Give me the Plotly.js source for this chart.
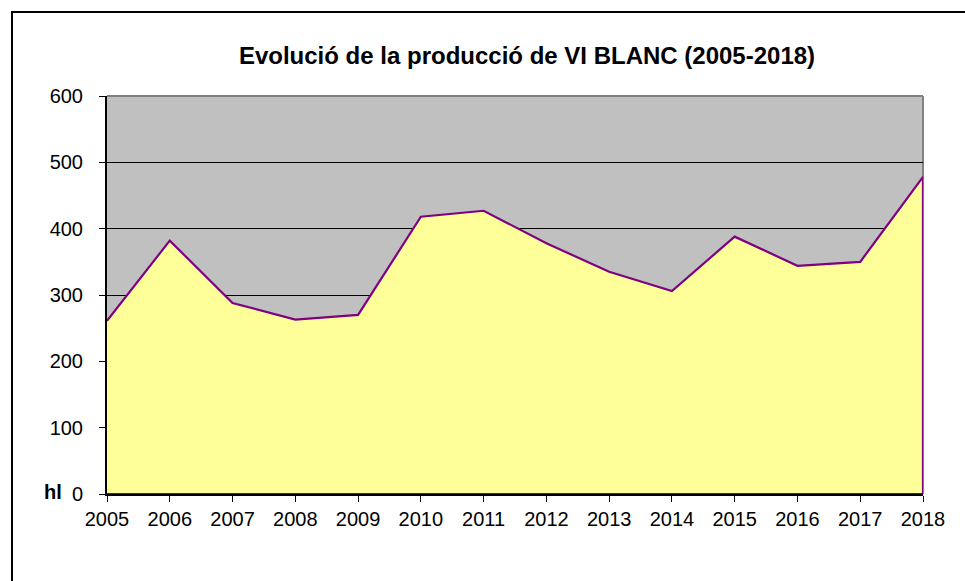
<!DOCTYPE html>
<html>
<head>
<meta charset="utf-8">
<script src="https://cdn.plot.ly/plotly-3.0.1.min.js"></script>
<style>
html,body{margin:0;padding:0;background:#fff;}
#wrap{position:relative;width:965px;height:581px;overflow:hidden;}
#frame{position:absolute;left:11px;top:11px;width:1000px;height:700px;border-left:2px solid #000;border-top:2px solid #000;pointer-events:none;}
#chart{position:absolute;left:0;top:0;width:965px;height:581px;}
</style>
</head>
<body>
<div id="wrap">
<div id="chart"></div>
<div id="frame"></div>
</div>
<script>
const years = [2005,2006,2007,2008,2009,2010,2011,2012,2013,2014,2015,2016,2017,2018];
const production = [261,382,288,263,270,418,427,378,335,306,388,344,350,478];
const yTicks = [0,100,200,300,400,500,600];
const titleText = 'Evolució de la producció de VI BLANC (2005-2018)';
const unitLabel = 'hl';

const xs = years.concat([years[years.length-1], years[0]]);
const ys = production.concat([0, 0]);

const font = 'Liberation Sans, Arial, sans-serif';

const trace = {
  x: xs, y: ys, type: 'scatter', mode: 'lines',
  fill: 'toself', fillcolor: '#FFFF99',
  line: {color: '#800080', width: 2.2},
  hoverinfo: 'skip'
};

const layout = {
  width: 965, height: 581,
  margin: {l: 107, r: 42, t: 96, b: 87},
  paper_bgcolor: 'rgba(0,0,0,0)',
  plot_bgcolor: '#C0C0C0',
  showlegend: false,
  title: {
    text: '<b>' + titleText + '</b>',
    font: {family: font, size: 24, color: '#000'},
    xref: 'container', yref: 'container',
    x: 527/965, xanchor: 'center',
    y: 1 - 56/581, yanchor: 'middle'
  },
  xaxis: {
    range: [years[0], years[years.length-1]],
    tickmode: 'array', tickvals: years, ticktext: years.map(String),
    showgrid: false, zeroline: false,
    showline: true, linecolor: '#000', linewidth: 2,
    ticks: 'outside', ticklen: 6, tickcolor: '#000', tickwidth: 1,
    tickfont: {family: font, size: 20, color: '#000'},
    fixedrange: true
  },
  yaxis: {
    range: [0, 600],
    tickmode: 'array', tickvals: yTicks, ticktext: yTicks.map(String),
    showgrid: true, gridcolor: '#000', gridwidth: 1,
    zeroline: false,
    showline: true, linecolor: '#000', linewidth: 2,
    ticks: 'outside', ticklen: 6, tickcolor: '#000', tickwidth: 1,
    ticklabelstandoff: 12,
    tickfont: {family: font, size: 20, color: '#000'},
    fixedrange: true
  },
  shapes: [
    {type: 'line', xref: 'paper', yref: 'paper', x0: 0, x1: 1, y0: 1, y1: 1,
     line: {color: '#808080', width: 2}, layer: 'above'},
    {type: 'line', xref: 'paper', yref: 'paper', x0: 1, x1: 1, y0: 0, y1: 1,
     line: {color: '#808080', width: 2}, layer: 'below'}
  ],
  annotations: [
    {text: '<b>' + unitLabel + '</b>', xref: 'paper', yref: 'y',
     x: (42-107)/816, y: 0, xanchor: 'left', yanchor: 'middle', yshift: 2,
     showarrow: false, font: {family: font, size: 20, color: '#000'}}
  ]
};

Plotly.newPlot('chart', [trace], layout, {displayModeBar: false, staticPlot: true});
</script>
</body>
</html>
